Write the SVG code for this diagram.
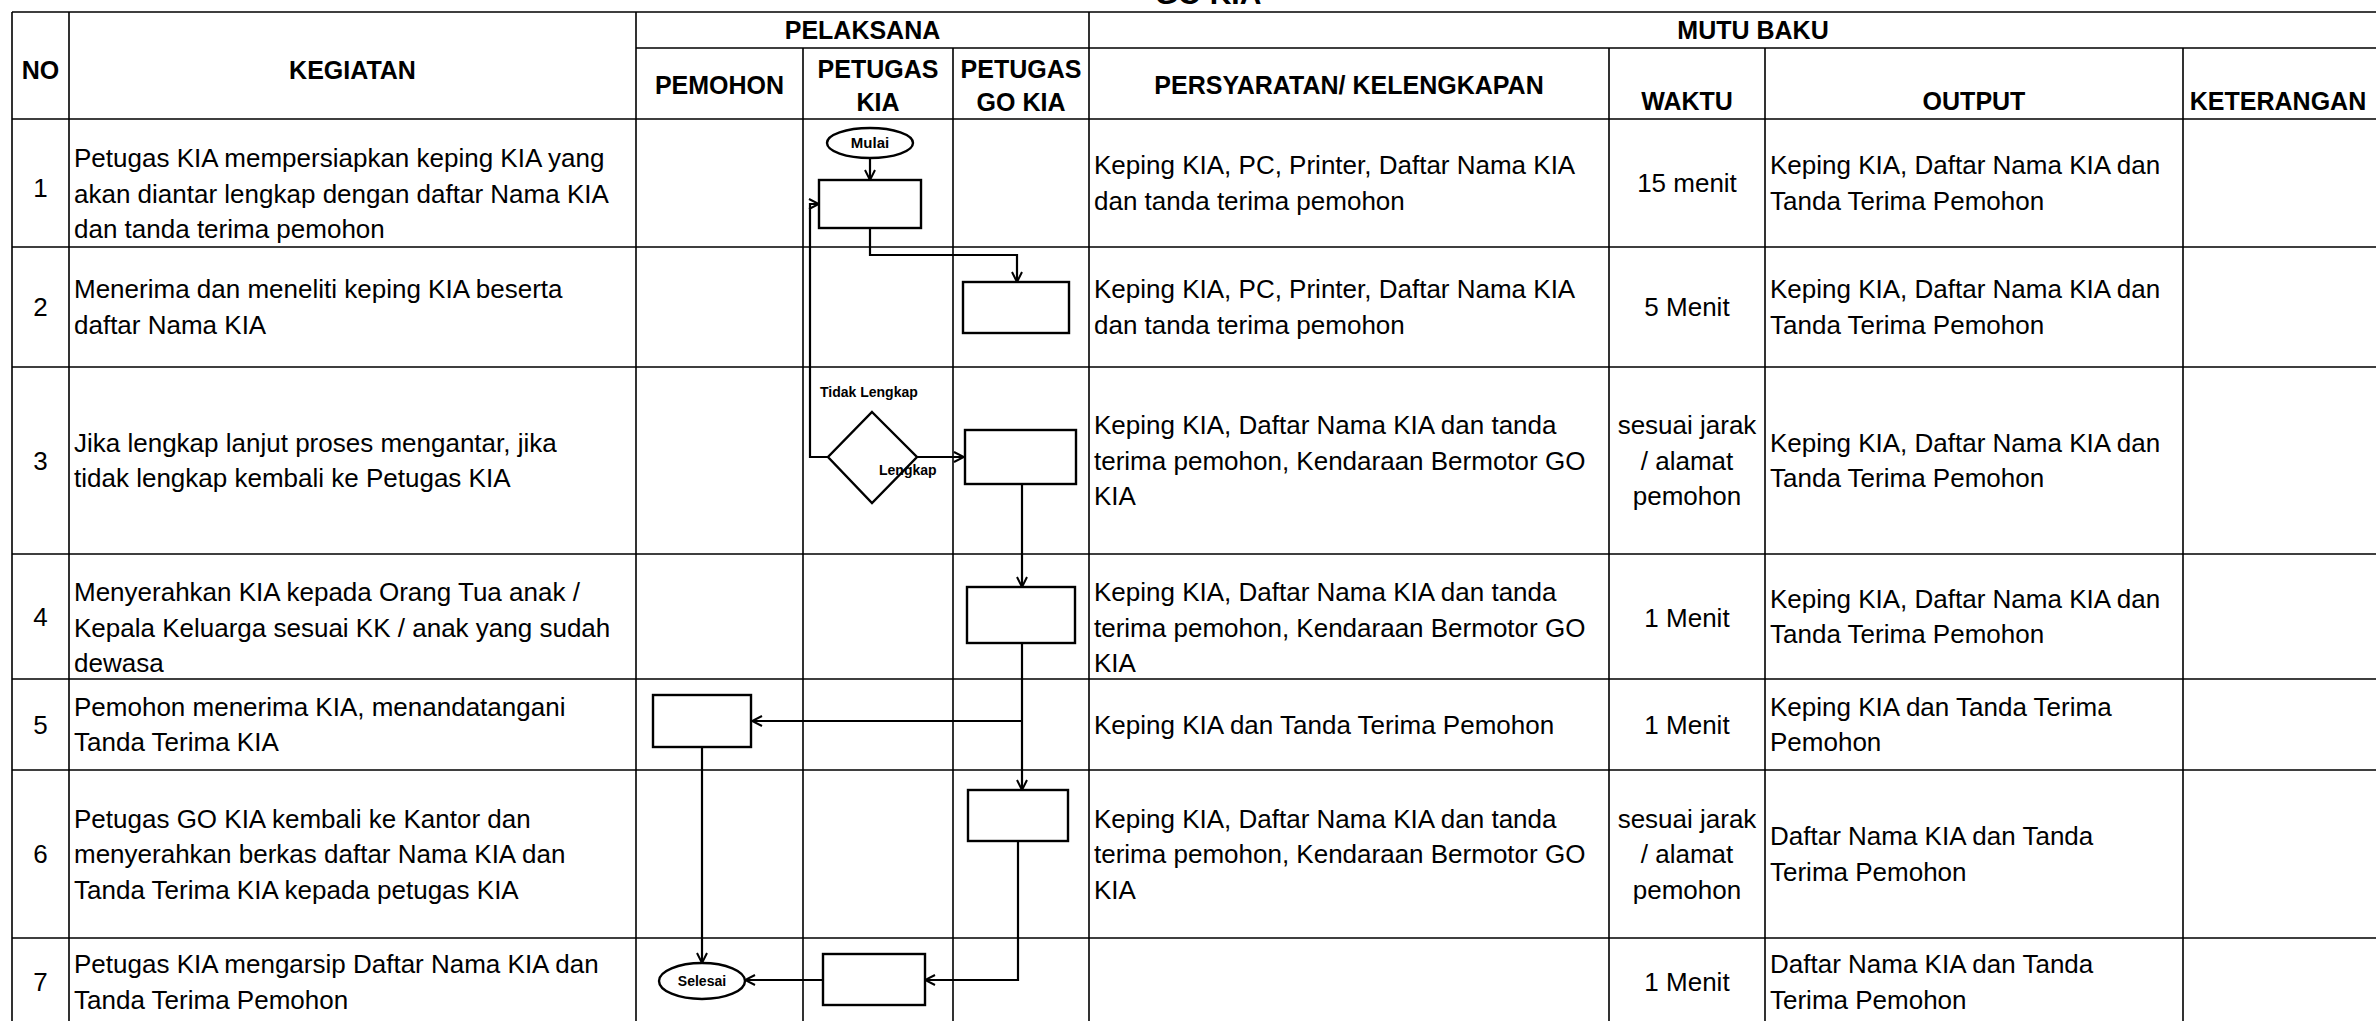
<svg xmlns="http://www.w3.org/2000/svg" width="2376" height="1021" viewBox="0 0 2376 1021">
<style>
.g{stroke:#000;stroke-width:1.6;fill:none}
.h{font-family:"Liberation Sans",Arial,sans-serif;font-weight:bold;font-size:25px;fill:#000}
.t{font-family:"Liberation Sans",Arial,sans-serif;font-size:26px;fill:#000}
.c{text-anchor:middle}
.s{stroke:#000;stroke-width:2.4;fill:#fff}
.l{font-family:"Liberation Sans",Arial,sans-serif;font-weight:bold;font-size:14px;fill:#000}
.k{stroke:#000;stroke-width:2.2;fill:none;marker-end:url(#arr)}
</style>
<defs>
<marker id="arr" viewBox="0 0 12 12" refX="11" refY="6" markerWidth="12" markerHeight="12" orient="auto" markerUnits="userSpaceOnUse">
<path d="M1,1 L11,6 L1,11" fill="none" stroke="#000" stroke-width="2"/>
</marker>
</defs>
<rect width="2376" height="1021" fill="#fff"/>
<text class="h c" x="1208" y="4" style="font-size:30px">GO KIA</text>
<g id="grid">
<path class="g" d="M12,12 H2376 M636,48 H2376 M12,119 H2376 M12,247 H2376 M12,367 H2376 M12,554 H2376 M12,679 H2376 M12,770 H2376 M12,938 H2376"/>
<path class="g" d="M12,12 V1021 M69,12 V1021 M636,12 V1021 M803,48 V1021 M953,48 V1021 M1089,12 V1021 M1609,48 V1021 M1765,48 V1021 M2183,48 V1021"/>
</g>
<g id="headers">
<text class="h c" x="40.5" y="79">NO</text>
<text class="h c" x="352.5" y="79">KEGIATAN</text>
<text class="h c" x="862.5" y="39">PELAKSANA</text>
<text class="h c" x="1753" y="39">MUTU BAKU</text>
<text class="h c" x="719.5" y="94">PEMOHON</text>
<text class="h c" x="878" y="78">PETUGAS</text>
<text class="h c" x="878" y="111">KIA</text>
<text class="h c" x="1021" y="78">PETUGAS</text>
<text class="h c" x="1021" y="111">GO KIA</text>
<text class="h c" x="1349" y="94">PERSYARATAN/ KELENGKAPAN</text>
<text class="h c" x="1687" y="110">WAKTU</text>
<text class="h c" x="1974" y="110">OUTPUT</text>
<text class="h c" x="2278" y="110">KETERANGAN</text>
</g>
<g id="row1">
<text class="t c" x="40.5" y="197">1</text>
<text class="t" x="74" y="167">Petugas KIA mempersiapkan keping KIA yang</text>
<text class="t" x="74" y="202.5">akan diantar lengkap dengan daftar Nama KIA</text>
<text class="t" x="74" y="238">dan tanda terima pemohon</text>
<text class="t" x="1094" y="174.25">Keping KIA, PC, Printer, Daftar Nama KIA</text>
<text class="t" x="1094" y="209.75">dan tanda terima pemohon</text>
<text class="t c" x="1687" y="192">15 menit</text>
<text class="t" x="1770" y="174.25">Keping KIA, Daftar Nama KIA dan</text>
<text class="t" x="1770" y="209.75">Tanda Terima Pemohon</text>
</g>
<g id="row2">
<text class="t c" x="40.5" y="316">2</text>
<text class="t" x="74" y="298.25">Menerima dan meneliti keping KIA beserta</text>
<text class="t" x="74" y="333.75">daftar Nama KIA</text>
<text class="t" x="1094" y="298.25">Keping KIA, PC, Printer, Daftar Nama KIA</text>
<text class="t" x="1094" y="333.75">dan tanda terima pemohon</text>
<text class="t c" x="1687" y="316">5 Menit</text>
<text class="t" x="1770" y="298.25">Keping KIA, Daftar Nama KIA dan</text>
<text class="t" x="1770" y="333.75">Tanda Terima Pemohon</text>
</g>
<g id="row3">
<text class="t c" x="40.5" y="469.5">3</text>
<text class="t" x="74" y="451.75">Jika lengkap lanjut proses mengantar, jika</text>
<text class="t" x="74" y="487.25">tidak lengkap kembali ke Petugas KIA</text>
<text class="t" x="1094" y="434">Keping KIA, Daftar Nama KIA dan tanda</text>
<text class="t" x="1094" y="469.5">terima pemohon, Kendaraan Bermotor GO</text>
<text class="t" x="1094" y="505">KIA</text>
<text class="t c" x="1687" y="434">sesuai jarak</text>
<text class="t c" x="1687" y="469.5">/ alamat</text>
<text class="t c" x="1687" y="505">pemohon</text>
<text class="t" x="1770" y="451.75">Keping KIA, Daftar Nama KIA dan</text>
<text class="t" x="1770" y="487.25">Tanda Terima Pemohon</text>
</g>
<g id="row4">
<text class="t c" x="40.5" y="625.5">4</text>
<text class="t" x="74" y="601">Menyerahkan KIA kepada Orang Tua anak /</text>
<text class="t" x="74" y="636.5">Kepala Keluarga sesuai KK / anak yang sudah</text>
<text class="t" x="74" y="672">dewasa</text>
<text class="t" x="1094" y="601">Keping KIA, Daftar Nama KIA dan tanda</text>
<text class="t" x="1094" y="636.5">terima pemohon, Kendaraan Bermotor GO</text>
<text class="t" x="1094" y="672">KIA</text>
<text class="t c" x="1687" y="626.5">1 Menit</text>
<text class="t" x="1770" y="607.75">Keping KIA, Daftar Nama KIA dan</text>
<text class="t" x="1770" y="643.25">Tanda Terima Pemohon</text>
</g>
<g id="row5">
<text class="t c" x="40.5" y="733.5">5</text>
<text class="t" x="74" y="715.75">Pemohon menerima KIA, menandatangani</text>
<text class="t" x="74" y="751.25">Tanda Terima KIA</text>
<text class="t" x="1094" y="733.5">Keping KIA dan Tanda Terima Pemohon</text>
<text class="t c" x="1687" y="733.5">1 Menit</text>
<text class="t" x="1770" y="715.75">Keping KIA dan Tanda Terima</text>
<text class="t" x="1770" y="751.25">Pemohon</text>
</g>
<g id="row6">
<text class="t c" x="40.5" y="863">6</text>
<text class="t" x="74" y="827.5">Petugas GO KIA kembali ke Kantor dan</text>
<text class="t" x="74" y="863">menyerahkan berkas daftar Nama KIA dan</text>
<text class="t" x="74" y="898.5">Tanda Terima KIA kepada petugas KIA</text>
<text class="t" x="1094" y="827.5">Keping KIA, Daftar Nama KIA dan tanda</text>
<text class="t" x="1094" y="863">terima pemohon, Kendaraan Bermotor GO</text>
<text class="t" x="1094" y="898.5">KIA</text>
<text class="t c" x="1687" y="827.5">sesuai jarak</text>
<text class="t c" x="1687" y="863">/ alamat</text>
<text class="t c" x="1687" y="898.5">pemohon</text>
<text class="t" x="1770" y="845.25">Daftar Nama KIA dan Tanda</text>
<text class="t" x="1770" y="880.75">Terima Pemohon</text>
</g>
<g id="row7">
<text class="t c" x="40.5" y="991">7</text>
<text class="t" x="74" y="973.25">Petugas KIA mengarsip Daftar Nama KIA dan</text>
<text class="t" x="74" y="1008.75">Tanda Terima Pemohon</text>
<text class="t c" x="1687" y="991">1 Menit</text>
<text class="t" x="1770" y="973.25">Daftar Nama KIA dan Tanda</text>
<text class="t" x="1770" y="1008.75">Terima Pemohon</text>
</g>
<g id="connectors">
<path class="k" d="M870,158 V180"/>
<path class="k" d="M870,228 V255 H1017 V282"/>
<path class="k" d="M828,457 H810 V204 H819"/>
<path class="k" d="M917,457 H964"/>
<path class="k" d="M1022,484 V587"/>
<path class="k" d="M1022,643 V790"/>
<path class="k" d="M1022,721 H752"/>
<path class="k" d="M702,747 V963"/>
<path class="k" d="M1018,841 V980 H925"/>
<path class="k" d="M823,980 H745"/>
<text class="l" x="820" y="397">Tidak Lengkap</text>
<text class="l" x="879" y="475">Lengkap</text>
</g>
<g id="mulai">
<ellipse class="s" cx="870" cy="143" rx="43" ry="15"/>
<text class="l c" x="870" y="148" style="font-size:15px">Mulai</text>
</g>
<g id="box1"><rect class="s" x="819" y="180" width="102" height="48"/></g>
<g id="box2"><rect class="s" x="963" y="282" width="106" height="51"/></g>
<g id="decision"><path class="s" style="fill:none" d="M872,412 L917,457 L872,503 L828,457 Z"/></g>
<g id="box3"><rect class="s" x="965" y="430" width="111" height="54"/></g>
<g id="box4"><rect class="s" x="967" y="587" width="108" height="56"/></g>
<g id="box5"><rect class="s" x="653" y="695" width="98" height="52"/></g>
<g id="box6"><rect class="s" x="968" y="790" width="100" height="51"/></g>
<g id="box7"><rect class="s" x="823" y="954" width="102" height="51"/></g>
<g id="selesai">
<ellipse class="s" cx="702" cy="981" rx="43" ry="18"/>
<text class="l c" x="702" y="986">Selesai</text>
</g>
</svg>
